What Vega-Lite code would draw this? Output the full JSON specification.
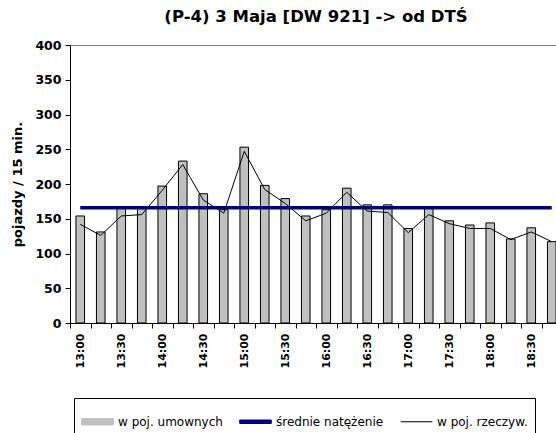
{
  "$schema": "https://vega.github.io/schema/vega-lite/v6.json",
  "width": 492,
  "height": 278,
  "padding": {"left": 11, "top": 8, "right": 0, "bottom": 0},
  "config": {
    "font": "DejaVu Sans",
    "view": {"stroke": "#808080", "strokeWidth": 1},
    "axis": {"domainColor": "#000000", "tickColor": "#000000", "labelColor": "#000000", "titleColor": "#000000", "grid": false}
  },
  "title": {
    "text": "(P-4) 3 Maja [DW 921] -> od DTŚ",
    "font": "DejaVu Sans",
    "fontSize": 16.5,
    "fontWeight": "bold",
    "color": "#000000",
    "offset": 14
  },
  "data": {
    "values": [
      {"time": "13:00", "series": "w poj. umownych", "value": 154},
      {"time": "13:15", "series": "w poj. umownych", "value": 131},
      {"time": "13:30", "series": "w poj. umownych", "value": 165},
      {"time": "13:45", "series": "w poj. umownych", "value": 165},
      {"time": "14:00", "series": "w poj. umownych", "value": 197},
      {"time": "14:15", "series": "w poj. umownych", "value": 233},
      {"time": "14:30", "series": "w poj. umownych", "value": 186},
      {"time": "14:45", "series": "w poj. umownych", "value": 163},
      {"time": "15:00", "series": "w poj. umownych", "value": 253},
      {"time": "15:15", "series": "w poj. umownych", "value": 198},
      {"time": "15:30", "series": "w poj. umownych", "value": 179},
      {"time": "15:45", "series": "w poj. umownych", "value": 154},
      {"time": "16:00", "series": "w poj. umownych", "value": 163},
      {"time": "16:15", "series": "w poj. umownych", "value": 194},
      {"time": "16:30", "series": "w poj. umownych", "value": 170},
      {"time": "16:45", "series": "w poj. umownych", "value": 170},
      {"time": "17:00", "series": "w poj. umownych", "value": 136},
      {"time": "17:15", "series": "w poj. umownych", "value": 165},
      {"time": "17:30", "series": "w poj. umownych", "value": 147},
      {"time": "17:45", "series": "w poj. umownych", "value": 141},
      {"time": "18:00", "series": "w poj. umownych", "value": 144},
      {"time": "18:15", "series": "w poj. umownych", "value": 121},
      {"time": "18:30", "series": "w poj. umownych", "value": 137},
      {"time": "18:45", "series": "w poj. umownych", "value": 117},
      {"time": "13:00", "series": "w poj. rzeczyw.", "value": 142},
      {"time": "13:15", "series": "w poj. rzeczyw.", "value": 126},
      {"time": "13:30", "series": "w poj. rzeczyw.", "value": 154},
      {"time": "13:45", "series": "w poj. rzeczyw.", "value": 156},
      {"time": "14:00", "series": "w poj. rzeczyw.", "value": 191},
      {"time": "14:15", "series": "w poj. rzeczyw.", "value": 228},
      {"time": "14:30", "series": "w poj. rzeczyw.", "value": 177},
      {"time": "14:45", "series": "w poj. rzeczyw.", "value": 158},
      {"time": "15:00", "series": "w poj. rzeczyw.", "value": 247},
      {"time": "15:15", "series": "w poj. rzeczyw.", "value": 192},
      {"time": "15:30", "series": "w poj. rzeczyw.", "value": 172},
      {"time": "15:45", "series": "w poj. rzeczyw.", "value": 147},
      {"time": "16:00", "series": "w poj. rzeczyw.", "value": 158},
      {"time": "16:15", "series": "w poj. rzeczyw.", "value": 188},
      {"time": "16:30", "series": "w poj. rzeczyw.", "value": 161},
      {"time": "16:45", "series": "w poj. rzeczyw.", "value": 159},
      {"time": "17:00", "series": "w poj. rzeczyw.", "value": 130},
      {"time": "17:15", "series": "w poj. rzeczyw.", "value": 156},
      {"time": "17:30", "series": "w poj. rzeczyw.", "value": 143},
      {"time": "17:45", "series": "w poj. rzeczyw.", "value": 136},
      {"time": "18:00", "series": "w poj. rzeczyw.", "value": 136},
      {"time": "18:15", "series": "w poj. rzeczyw.", "value": 120},
      {"time": "18:30", "series": "w poj. rzeczyw.", "value": 131},
      {"time": "18:45", "series": "w poj. rzeczyw.", "value": 117},
      {"time": "13:00", "series": "średnie natężenie", "value": 166},
      {"time": "13:15", "series": "średnie natężenie", "value": 166},
      {"time": "13:30", "series": "średnie natężenie", "value": 166},
      {"time": "13:45", "series": "średnie natężenie", "value": 166},
      {"time": "14:00", "series": "średnie natężenie", "value": 166},
      {"time": "14:15", "series": "średnie natężenie", "value": 166},
      {"time": "14:30", "series": "średnie natężenie", "value": 166},
      {"time": "14:45", "series": "średnie natężenie", "value": 166},
      {"time": "15:00", "series": "średnie natężenie", "value": 166},
      {"time": "15:15", "series": "średnie natężenie", "value": 166},
      {"time": "15:30", "series": "średnie natężenie", "value": 166},
      {"time": "15:45", "series": "średnie natężenie", "value": 166},
      {"time": "16:00", "series": "średnie natężenie", "value": 166},
      {"time": "16:15", "series": "średnie natężenie", "value": 166},
      {"time": "16:30", "series": "średnie natężenie", "value": 166},
      {"time": "16:45", "series": "średnie natężenie", "value": 166},
      {"time": "17:00", "series": "średnie natężenie", "value": 166},
      {"time": "17:15", "series": "średnie natężenie", "value": 166},
      {"time": "17:30", "series": "średnie natężenie", "value": 166},
      {"time": "17:45", "series": "średnie natężenie", "value": 166},
      {"time": "18:00", "series": "średnie natężenie", "value": 166},
      {"time": "18:15", "series": "średnie natężenie", "value": 166},
      {"time": "18:30", "series": "średnie natężenie", "value": 166},
      {"time": "18:45", "series": "średnie natężenie", "value": 166}
    ]
  },
  "encoding": {
    "x": {
      "field": "time",
      "type": "ordinal",
      "sort": null,
      "scale": {"paddingInner": 0, "paddingOuter": 0},
      "axis": {
        "title": null,
        "labelAngle": 270,
        "labelFont": "DejaVu Sans",
        "labelFontSize": 11,
        "labelFontWeight": "bold",
        "labelPadding": 5,
        "tickBand": "extent",
        "tickSize": 5,
        "labelExpr": "(indexof(datum.label, ':00') > 0 || indexof(datum.label, ':30') > 0) ? datum.label : ''"
      }
    },
    "y": {
      "field": "value",
      "type": "quantitative",
      "scale": {"domain": [0, 400], "nice": false},
      "axis": {
        "title": "pojazdy / 15 min.",
        "titleFont": "DejaVu Sans",
        "titleFontSize": 13,
        "titleFontWeight": "bold",
        "titlePadding": 10,
        "values": [0, 50, 100, 150, 200, 250, 300, 350, 400],
        "labelFont": "DejaVu Sans",
        "labelFontSize": 12.5,
        "labelFontWeight": "bold",
        "labelPadding": 4,
        "tickSize": 5
      }
    },
    "color": {
      "field": "series",
      "type": "nominal",
      "scale": {
        "domain": ["w poj. umownych", "średnie natężenie", "w poj. rzeczyw."],
        "range": ["#C0C0C0", "#000080", "#000000"]
      },
      "legend": {
        "title": null,
        "orient": "none",
        "legendX": 4,
        "legendY": 353,
        "direction": "horizontal",
        "columns": 3,
        "columnPadding": 14,
        "padding": 7,
        "strokeColor": "#000000",
        "fillColor": "#FFFFFF",
        "labelFont": "DejaVu Sans",
        "labelFontSize": 12,
        "labelColor": "#000000",
        "labelOffset": 4,
        "symbolSize": 1000,
        "symbolStrokeWidth": 1,
        "encode": {
          "symbols": {
            "update": {
              "shape": {"signal": "datum.value === 'w poj. umownych' ? 'M-1,-0.2H1V0.2H-1Z' : (datum.value === 'średnie natężenie' ? 'M-1,-0.11H1V0.11H-1Z' : 'stroke')"},
              "fill": {"signal": "datum.value === 'w poj. umownych' ? '#C0C0C0' : (datum.value === 'średnie natężenie' ? '#000080' : 'transparent')"},
              "stroke": {"signal": "datum.value === 'średnie natężenie' ? 'transparent' : '#000000'"},
              "opacity": {"value": 1}
            }
          }
        }
      }
    }
  },
  "layer": [
    {
      "transform": [{"filter": "datum.series === 'w poj. umownych'"}],
      "mark": {"type": "bar", "width": {"band": 0.42}, "stroke": "#000000", "strokeWidth": 1, "fillOpacity": 1}
    },
    {
      "transform": [{"filter": "datum.series === 'średnie natężenie'"}],
      "mark": {"type": "line", "strokeWidth": 3.5}
    },
    {
      "transform": [{"filter": "datum.series === 'w poj. rzeczyw.'"}],
      "mark": {"type": "line", "strokeWidth": 1}
    }
  ]
}
